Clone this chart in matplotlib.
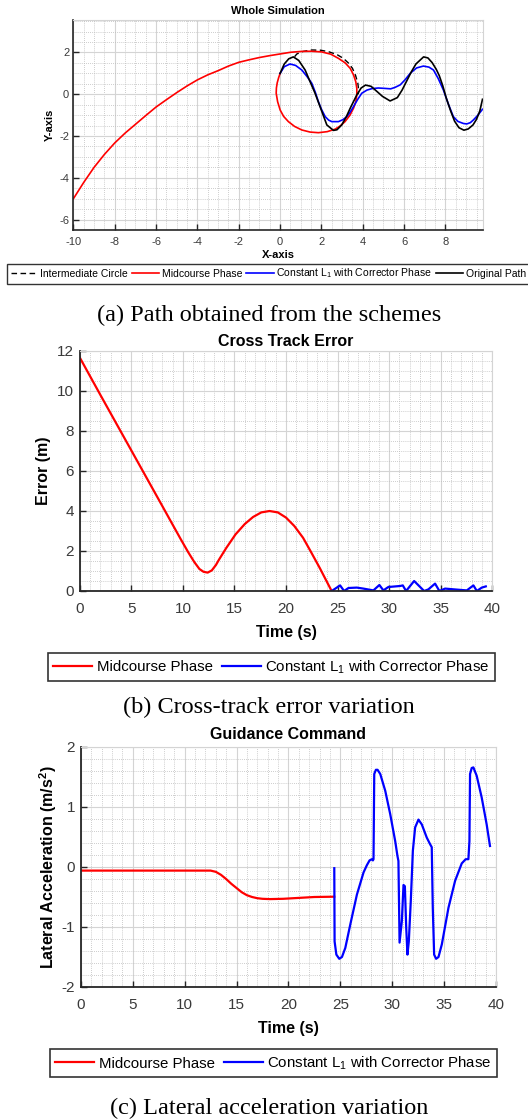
import numpy as np
import matplotlib
matplotlib.use("Agg")
import matplotlib.pyplot as plt
from matplotlib.ticker import MultipleLocator

W, H = 528, 1119

# ---- (a) whole simulation path ----
circ_x = [0.7, 0.81, 1.1, 1.53, 1.95, 2.34, 2.75, 3.06, 3.3, 3.5, 3.65, 3.76, 3.8, 3.78]
circ_y = [1.8, 1.93, 2.05, 2.12, 2.11, 2.04, 1.9, 1.72, 1.5, 1.24, 0.9, 0.53, 0.2, 0.0]

mid_x = [-10, -9.5, -9, -8.5, -8, -7.5, -7, -6.5, -6, -5.5, -5, -4.5, -4, -3.5, -3, -2.5,
         -2, -1.5, -1, -0.5, 0, 0.5, 1.0, 1.5, 2.0, 2.45, 2.82, 3.15, 3.39, 3.55, 3.66, 3.71,
         3.71, 3.66, 3.55, 3.38, 3.14, 2.9, 2.66, 2.28, 1.85, 1.45, 1.05, 0.7, 0.4, 0.17,
         0.0, -0.12, -0.19, -0.18, -0.14, -0.07, 0.0]
mid_y = [-5.0, -4.22, -3.5, -2.88, -2.33, -1.86, -1.44, -1.02, -0.61, -0.26, 0.08, 0.4, 0.69,
         0.93, 1.13, 1.35, 1.53, 1.65, 1.76, 1.85, 1.93, 2.01, 2.05, 2.06, 2.03, 1.92, 1.72,
         1.5, 1.24, 0.93, 0.6, 0.28, -0.03, -0.36, -0.67, -1.0, -1.31, -1.52, -1.67, -1.79,
         -1.84, -1.81, -1.71, -1.54, -1.31, -1.06, -0.75, -0.36, 0.05, 0.3, 0.55, 0.8, 1.0]

l1_x = [0.0, 0.2, 0.48, 0.75, 1.05, 1.3, 1.53, 1.7, 1.85, 2.0, 2.18, 2.35, 2.5, 2.82, 3.03,
        3.23, 3.4, 3.55, 3.75, 3.95, 4.2, 4.44, 4.75, 5.08, 5.35, 5.56, 5.81, 6.05, 6.29,
        6.6, 6.93, 7.2, 7.42, 7.65, 7.9, 8.15, 8.38, 8.6, 8.87, 9.03, 9.2, 9.35, 9.55, 9.79]
l1_y = [1.0, 1.32, 1.45, 1.38, 1.16, 0.85, 0.53, 0.1, -0.35, -0.72, -1.07, -1.24, -1.31,
        -1.31, -1.22, -1.07, -0.84, -0.59, -0.25, 0.05, 0.2, 0.27, 0.3, 0.28, 0.26, 0.33,
        0.45, 0.7, 1.0, 1.26, 1.35, 1.3, 1.16, 0.75, 0.2, -0.5, -1.07, -1.3, -1.4, -1.42,
        -1.36, -1.23, -1.02, -0.72]

orig_x = [0.0, 0.2, 0.42, 0.64, 0.9, 1.21, 1.45, 1.69, 2.02, 2.26, 2.58, 2.75, 2.98, 3.2,
          3.39, 3.71, 3.92, 4.13, 4.4, 4.7, 4.95, 5.32, 5.67, 5.9, 6.13, 6.35, 6.57, 6.94,
          7.15, 7.35, 7.55, 7.7, 7.87, 8.03, 8.25, 8.44, 8.65, 8.89, 9.1, 9.33, 9.5, 9.66, 9.79]
orig_y = [1.0, 1.45, 1.7, 1.79, 1.62, 1.16, 0.6, 0.05, -0.83, -1.47, -1.73, -1.7, -1.47,
          -1.08, -0.67, -0.03, 0.3, 0.44, 0.38, 0.12, -0.1, -0.32, -0.16, 0.2, 0.65, 1.08,
          1.45, 1.79, 1.74, 1.52, 1.2, 0.89, 0.4, -0.16, -0.8, -1.29, -1.6, -1.72, -1.66,
          -1.47, -1.2, -0.8, -0.24]

# ---- (b) cross track error ----
cte_mid_t = [0, 2, 4, 6, 8, 9, 9.8, 10.5, 11.1, 11.6, 12.0, 12.4, 12.8, 13.2, 13.5, 14.2,
             15.1, 16.0, 16.8, 17.6, 18.4, 19.2, 20.0, 20.8, 21.65, 22.4, 23.28, 23.8, 24.42]
cte_mid = [11.67, 9.8, 7.95, 6.1, 4.25, 3.32, 2.58, 1.95, 1.45, 1.1, 0.96, 0.92, 1.03, 1.3,
           1.57, 2.15, 2.83, 3.35, 3.7, 3.93, 4.0, 3.93, 3.67, 3.25, 2.66, 1.97, 1.14, 0.62, 0.0]

cte_l1_t = [24.43, 25.24, 25.63, 26.05, 26.86, 27.5, 28.47, 29.05, 29.44, 29.92, 31.06,
            31.32, 31.64, 32.42, 33.39, 33.8, 34.45, 34.87, 35.42, 36.56, 37.53, 38.17,
            38.5, 38.98, 39.37]
cte_l1 = [0.0, 0.28, 0.0, 0.15, 0.17, 0.12, 0.03, 0.3, 0.03, 0.2, 0.25, 0.28, 0.0, 0.5,
          0.0, 0.08, 0.37, 0.0, 0.12, 0.07, 0.03, 0.28, 0.0, 0.17, 0.23]

# ---- (c) guidance command ----
acc_mid_t = [0, 5, 10, 12.5, 13.0, 13.5, 14.0, 14.5, 15.0, 15.5, 16.0, 16.5, 17.0, 17.5,
             18.2, 19.5, 21.0, 22.5, 24.42]
acc_mid = [-0.06, -0.06, -0.06, -0.06, -0.08, -0.13, -0.2, -0.28, -0.35, -0.42, -0.47,
           -0.5, -0.52, -0.53, -0.535, -0.53, -0.515, -0.5, -0.495]

acc_l1_t = [24.42, 24.45, 24.62, 24.9, 25.16, 25.48, 25.96, 26.6, 27.24, 27.56, 27.82,
            28.04, 28.14, 28.2, 28.27, 28.43, 28.59, 28.85, 29.33, 29.81, 30.29, 30.51,
            30.6, 30.71, 30.93, 31.09, 31.22, 31.35, 31.47, 31.6, 31.79, 31.99, 32.21,
            32.53, 32.85, 33.33, 33.65, 33.81, 33.91, 34.04, 34.23, 34.46, 34.78, 35.42,
            36.06, 36.7, 37.08, 37.34, 37.44, 37.5, 37.66, 37.82, 38.14, 38.62, 39.1, 39.42]
acc_l1 = [-0.02, -1.24, -1.46, -1.53, -1.5, -1.35, -0.96, -0.46, -0.09, 0.03, 0.11, 0.13,
          0.11, 0.13, 1.55, 1.62, 1.62, 1.55, 1.27, 0.88, 0.43, 0.18, 0.1, -1.26, -0.9,
          -0.3, -0.32, -1.01, -1.46, -1.24, -0.57, 0.27, 0.66, 0.79, 0.71, 0.49, 0.38,
          0.33, -0.68, -1.46, -1.53, -1.5, -1.29, -0.68, -0.23, 0.06, 0.13, 0.13, 0.43,
          1.55, 1.65, 1.66, 1.52, 1.16, 0.71, 0.35]

LEG_MID = "Midcourse Phase"
LEG_L1 = "Constant L$_1$ with Corrector Phase"

plt.rcParams["font.family"] = ["Liberation Sans", "DejaVu Sans"]
plt.rcParams["mathtext.default"] = "regular"
plt.rcParams["axes.unicode_minus"] = False

AX_COL = "#262626"
SERIF = ["Liberation Serif", "DejaVu Serif"]


def rect(l, t, r, b):
    return [l / W, 1 - b / H, (r - l) / W, (b - t) / H]


def ftext(x, y, s, **kw):
    fig.text(x / W, 1 - y / H, s, ha="center", va="center", **kw)


def style(ax, fs, minx, miny, pad_x, pad_y, lw):
    ax.xaxis.set_minor_locator(MultipleLocator(minx))
    ax.yaxis.set_minor_locator(MultipleLocator(miny))
    ax.grid(True, which="major", color="#d4d4d4", lw=0.8, ls="-")
    ax.grid(True, which="minor", color="#bdbdbd", lw=0.6, ls=(0, (1, 1.5)))
    ax.set_axisbelow(True)
    for s in ["top", "right"]:
        ax.spines[s].set_color("#d4d4d4")
        ax.spines[s].set_linewidth(0.8)
    for s in ["left", "bottom"]:
        ax.spines[s].set_color(AX_COL)
        ax.spines[s].set_linewidth(lw)
    ax.tick_params(which="major", direction="in", length=4, width=1.0, color=AX_COL,
                   labelcolor="#3a3a3a", labelsize=fs, top=False, right=False)
    ax.tick_params(axis="x", pad=pad_x)
    ax.tick_params(axis="y", pad=pad_y)
    ax.tick_params(which="minor", length=0)


def legend(handles, labels, anchor, loc, ncol, fs, lw, bpad, colsp, htp):
    lg = fig.legend(handles, labels, loc=loc, bbox_to_anchor=anchor, ncol=ncol,
                    fontsize=fs, frameon=True, fancybox=False, edgecolor="black",
                    handlelength=2.6, handletextpad=htp, columnspacing=colsp,
                    borderpad=bpad, borderaxespad=0)
    lg.get_frame().set_linewidth(lw)
    return lg


fig = plt.figure(figsize=(W / 100, H / 100), dpi=100)

# (a)
ax1 = fig.add_axes(rect(73.4, 19.5, 482.5, 229.6))
ax1.plot(circ_x, circ_y, color="black", lw=1.0, ls=(0, (4, 2.5)), label="Intermediate Circle")
ax1.plot(mid_x, mid_y, color="red", lw=1.2, label=LEG_MID)
ax1.plot(l1_x, l1_y, color="blue", lw=1.2, label=LEG_L1)
ax1.plot(orig_x, orig_y, color="black", lw=1.2, label="Original Path")
ax1.set_xlim(-10, 9.79)
ax1.set_ylim(-6.48, 3.58)
ax1.set_xticks(np.arange(-10, 9, 2))
ax1.set_yticks(np.arange(-6, 3, 2))
style(ax1, 8, 0.5, 0.5, 5, 3, 1.2)
ftext(278, 11, "Whole Simulation", fontsize=8, fontweight="bold")
ftext(278, 254.6, "X-axis", fontsize=8, fontweight="bold")
ftext(50, 124.5, "Y-axis", fontsize=8, fontweight="bold", rotation=90)
h, l = ax1.get_legend_handles_labels()
legend(h, l, (7.4 / W, 1 - 263.5 / H), "upper left", 4, 7.5, 1.0, 0.3, 0.4, 0.25)
ftext(269, 315.5, "(a) Path obtained from the schemes", fontsize=17.5, family=SERIF)

# (b)
ax2 = fig.add_axes(rect(79.8, 351, 492.3, 591))
ax2.plot(cte_mid_t, cte_mid, color="red", lw=1.6, label=LEG_MID)
ax2.plot(cte_l1_t, cte_l1, color="blue", lw=1.6, label=LEG_L1)
ax2.set_xlim(0, 40)
ax2.set_ylim(0, 12)
ax2.set_xticks(np.arange(0, 41, 5))
ax2.set_yticks(np.arange(0, 13, 2))
style(ax2, 11, 1, 0.5, 8, 4, 1.3)
ftext(286, 341.3, "Cross Track Error", fontsize=11.5, fontweight="bold")
ftext(286, 632, "Time (s)", fontsize=11.5, fontweight="bold")
ftext(43.8, 471, "Error (m)", fontsize=11.5, fontweight="bold", rotation=90)
h, l = ax2.get_legend_handles_labels()
legend(h, l, (271.4 / W, 1 - 667 / H), "center", 2, 10.8, 1.2, 0.35, 0.6, 0.3)
ftext(269, 707, "(b) Cross-track error variation", fontsize=17.5, family=SERIF)

# (c)
ax3 = fig.add_axes(rect(80.8, 747, 496, 987))
ax3.plot(acc_mid_t, acc_mid, color="red", lw=1.6, label=LEG_MID)
ax3.plot(acc_l1_t, acc_l1, color="blue", lw=1.6, label=LEG_L1)
ax3.set_xlim(0, 40)
ax3.set_ylim(-2, 2)
ax3.set_xticks(np.arange(0, 41, 5))
ax3.set_yticks(np.arange(-2, 3, 1))
style(ax3, 11, 1, 0.2, 8, 4, 1.3)
ftext(288, 734.9, "Guidance Command", fontsize=11.5, fontweight="bold")
ftext(288, 1028.5, "Time (s)", fontsize=11.5, fontweight="bold")
ftext(48, 867, "Lateral Acceleration (m/s$^2$)", fontsize=11.5, fontweight="bold", rotation=90)
h, l = ax3.get_legend_handles_labels()
legend(h, l, (273.3 / W, 1 - 1063.4 / H), "center", 2, 10.8, 1.2, 0.35, 0.6, 0.3)
ftext(269, 1108, "(c) Lateral acceleration variation", fontsize=17.5, family=SERIF)

fig.savefig("out.png", dpi=100)
